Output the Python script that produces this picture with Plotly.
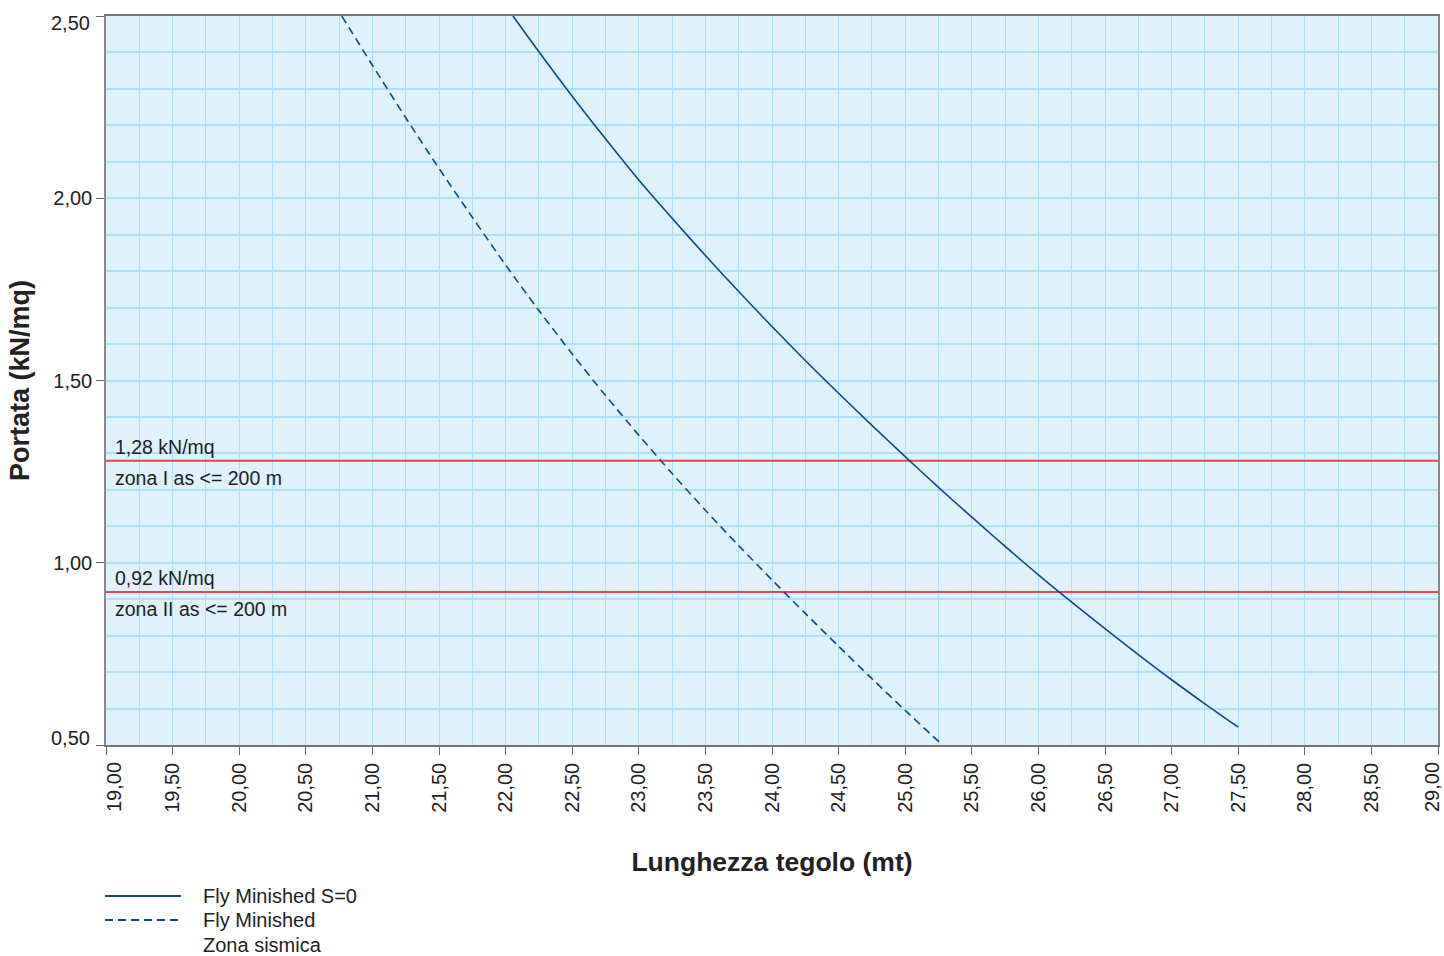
import plotly.graph_objects as go

# Data
solid_x = [22.055, 22.25, 22.5, 22.75, 23.0, 23.25, 23.5, 23.75, 24.0, 24.25, 24.5,
           24.75, 25.0, 25.25, 25.5, 25.75, 26.0, 26.25, 26.5, 26.75, 27.0, 27.25, 27.5]
solid_y = [2.50, 2.402, 2.280, 2.163, 2.050, 1.945, 1.843, 1.744, 1.648, 1.555, 1.465,
           1.377, 1.291, 1.207, 1.125, 1.045, 0.967, 0.892, 0.819, 0.748, 0.679, 0.613, 0.549]

dashed_x = [20.77, 21.0, 21.25, 21.5, 21.75, 22.0, 22.25, 22.5, 22.75, 23.0, 23.25,
            23.5, 23.75, 24.0, 24.25, 24.5, 24.75, 25.0, 25.27]
dashed_y = [2.50, 2.365, 2.221, 2.082, 1.948, 1.817, 1.692, 1.573, 1.459, 1.350, 1.245,
            1.144, 1.047, 0.953, 0.861, 0.771, 0.682, 0.595, 0.503]

limit_values = [1.28, 0.92]
limit_labels_top = ["1,28 kN/mq", "0,92 kN/mq"]
limit_labels_bottom = ["zona I as <= 200 m", "zona II as <= 200 m"]

x_ticks = [19.0, 19.5, 20.0, 20.5, 21.0, 21.5, 22.0, 22.5, 23.0, 23.5, 24.0,
           24.5, 25.0, 25.5, 26.0, 26.5, 27.0, 27.5, 28.0, 28.5, 29.0]
x_ticklabels = ["19,00", "19,50", "20,00", "20,50", "21,00", "21,50", "22,00", "22,50",
                "23,00", "23,50", "24,00", "24,50", "25,00", "25,50", "26,00", "26,50",
                "27,00", "27,50", "28,00", "28,50", "29,00"]
y_ticks = [0.5, 1.0, 1.5, 2.0, 2.5]
y_ticklabels = ["0,50", "1,00", "1,50", "2,00", "2,50"]

x_range = [19, 29]
y_range = [0.5, 2.5]

series_names = ["Fly Minished S=0", "Fly Minished<br>Zona sismica"]
legend_texts = ["Fly Minished S=0", "Fly Minished", "Zona sismica"]

NAVY = "#0c4a89"
RED = "#e2474f"
GRID = "#ade0f6"
FONT = "Liberation Sans"
TXT = "#222"

FIG_W, FIG_H = 1444, 956
plot_l, plot_r, plot_t, plot_b = 106, 1438, 16, 745
W = plot_r - plot_l
H = plot_b - plot_t


def px_x(p):
    return (p - plot_l) / W


def px_y(p):
    return (plot_b - p) / H


fig = go.Figure()

for v in limit_values:
    fig.add_trace(go.Scatter(x=x_range, y=[v, v], mode="lines",
                             line=dict(color=RED, width=2), showlegend=False,
                             hoverinfo="skip"))

fig.add_trace(go.Scatter(x=solid_x, y=solid_y, mode="lines", name=series_names[0],
                         line=dict(color=NAVY, width=1.6, shape="spline", smoothing=0.8),
                         showlegend=False))
fig.add_trace(go.Scatter(x=dashed_x, y=dashed_y, mode="lines", name=series_names[1],
                         line=dict(color=NAVY, width=1.6, dash="8px,5px", shape="spline",
                                   smoothing=0.8),
                         showlegend=False))

# Labels for the limit lines
for v, top, bot in zip(limit_values, limit_labels_top, limit_labels_bottom):
    fig.add_annotation(x=19.05, y=v, xref="x", yref="y", text=top, showarrow=False,
                       xanchor="left", yanchor="bottom", yshift=1,
                       font=dict(family=FONT, size=19.5, color=TXT))
    fig.add_annotation(x=19.05, y=v, xref="x", yref="y", text=bot, showarrow=False,
                       xanchor="left", yanchor="top", yshift=-4,
                       font=dict(family=FONT, size=19.5, color=TXT))

# End tick labels are nudged inward, as in the reference
x_text = list(x_ticklabels)
x_text[0] = ""
x_text[-1] = ""
y_text = list(y_ticklabels)
y_text[0] = ""
y_text[-1] = ""

for val, lab, shift in [(x_ticks[0], x_ticklabels[0], 8), (x_ticks[-1], x_ticklabels[-1], -6)]:
    fig.add_annotation(x=val, y=0, xref="x", yref="paper", text=lab, showarrow=False,
                       textangle=-90, xanchor="center", yanchor="top", xshift=shift,
                       yshift=-15, font=dict(family=FONT, size=20, color=TXT))
for val, lab, shift in [(y_ticks[0], y_ticklabels[0], 7), (y_ticks[-1], y_ticklabels[-1], -7)]:
    fig.add_annotation(x=0, y=val, xref="paper", yref="y", text=lab, showarrow=False,
                       xanchor="right", yanchor="middle", xshift=-14, yshift=shift,
                       font=dict(family=FONT, size=20, color=TXT))

# Custom legend (long line samples as in the reference)
fig.add_shape(type="line", xref="paper", yref="paper",
              x0=px_x(105), x1=px_x(181), y0=px_y(896), y1=px_y(896),
              line=dict(color=NAVY, width=2.2))
fig.add_shape(type="line", xref="paper", yref="paper",
              x0=px_x(105), x1=px_x(181), y0=px_y(920), y1=px_y(920),
              line=dict(color=NAVY, width=2.2, dash="8px,5px"))
for t, yy in zip(legend_texts, [896, 920, 945]):
    fig.add_annotation(x=px_x(201), y=px_y(yy), xref="paper", yref="paper", text=t,
                       showarrow=False, xanchor="left", yanchor="middle",
                       font=dict(family=FONT, size=20, color=TXT))

fig.update_layout(
    width=FIG_W, height=FIG_H,
    margin=dict(l=plot_l, r=FIG_W - plot_r, t=plot_t, b=FIG_H - plot_b),
    paper_bgcolor="white",
    plot_bgcolor="#dff1fb",
    font=dict(family=FONT, size=18, color=TXT),
    showlegend=False,
)

fig.update_xaxes(
    range=x_range, tickmode="array", tickvals=x_ticks, ticktext=x_text, tickangle=-90,
    ticks="outside", ticklen=8, tickcolor="#666", tickwidth=1,
    showline=True, linecolor="#777", linewidth=1.5, mirror=True,
    showgrid=True, gridcolor=GRID, gridwidth=1,
    minor=dict(tickmode="linear", tick0=19, dtick=0.25, showgrid=True,
               gridcolor=GRID, gridwidth=1),
    zeroline=False, automargin=False,
    tickfont=dict(family=FONT, size=20, color=TXT),
    title=dict(text="<b>Lunghezza tegolo (mt)</b>", standoff=41,
               font=dict(family=FONT, size=26.5, color=TXT)),
)
fig.update_yaxes(
    range=y_range, tickmode="array", tickvals=y_ticks, ticktext=y_text,
    ticks="outside", ticklen=8, tickcolor="#666", tickwidth=1,
    showline=True, linecolor="#888", linewidth=1.5, mirror=True,
    showgrid=True, gridcolor=GRID, gridwidth=1.5,
    minor=dict(tickmode="linear", tick0=0.5, dtick=0.1, showgrid=True,
               gridcolor=GRID, gridwidth=1.5),
    zeroline=False, automargin=False,
    tickfont=dict(family=FONT, size=20, color=TXT),
    title=dict(text="<b>Portata (kN/mq)</b>", standoff=16,
               font=dict(family=FONT, size=27, color=TXT)),
)

# Remove the default page margin so the 1444x956 figure fills the window exactly
fig.write_html(
    "out.html",
    config={"displayModeBar": False},
    post_script="document.body.style.margin='0';document.body.style.overflow='hidden';",
)
